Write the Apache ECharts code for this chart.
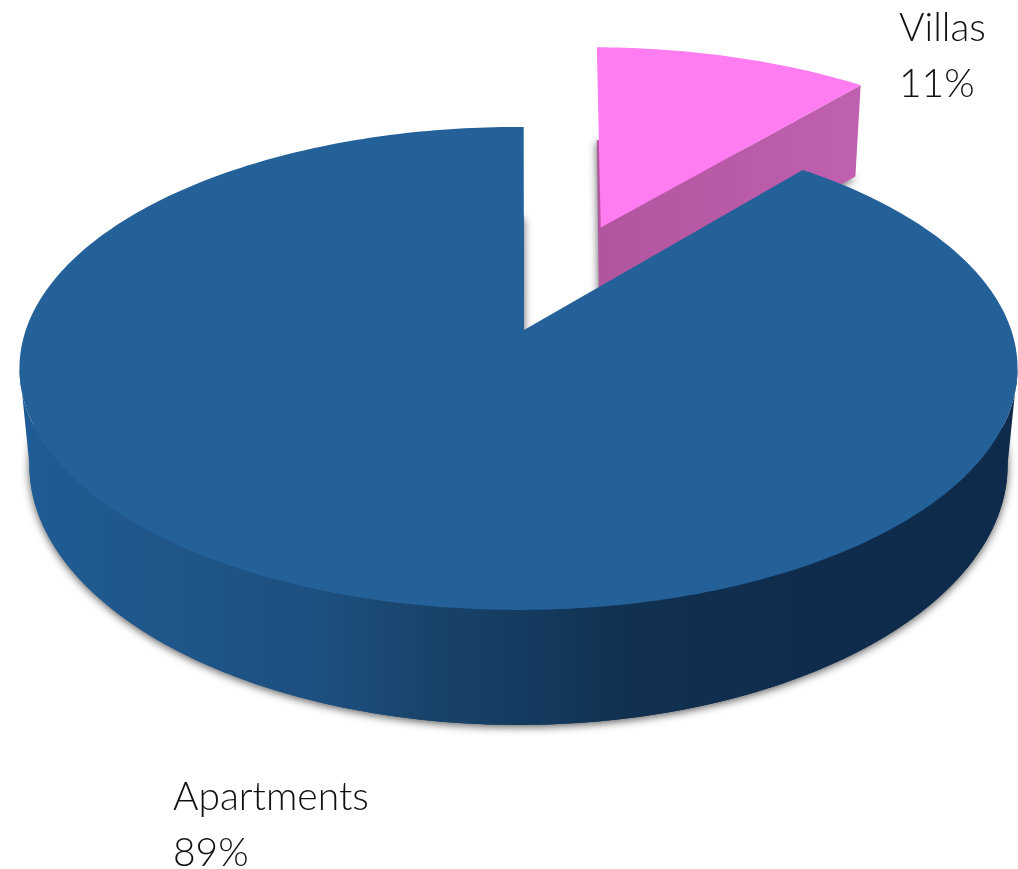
<!DOCTYPE html>
<html>
<head>
<meta charset="utf-8">
<style>html,body{margin:0;padding:0;background:#fff}#c{width:1018px;height:869px}</style>
<script src="https://cdn.jsdelivr.net/npm/echarts@6/dist/echarts.min.js"></script>
</head>
<body>
<div id="c"></div>
<script>
// Clockwise from the top of the pie
const categories = ['Villas', 'Apartments'];
const values = [11, 89];
const explode = [0.5, 0];
const topColors = ['#ff7df0', '#246199'];
const wallStops = [
  [[0, '#b2559f'], [1, '#c060b0']],
  [[0, '#1f5c96'], [0.15, '#205689'], [0.3, '#1d4f7f'], [0.42, '#184369'],
   [0.52, '#133a5e'], [0.62, '#11304f'], [0.8, '#0f2c4d'], [1, '#0e2b4b']]
];
const labelPos = [[899, 56], [173, 825]];
const rimShift = [[3.5, -2.5], [0, 0]];
const apexShift = [[2, 0], [5.5, 0]];
const lowShift = [[5, -2.5], [0, 0]];

const START = 0.7, CX = 518.5, AY = 330, A = 235.4, B = 492.7, P = 0.159, SHRINK = 0.98;
const FRONT_FROM = 99, FRONT_TO = 261;

function rad(d) { return d * Math.PI / 180; }
function topPt(x, y) { return [CX + B * x / (1 + P * y), AY - A * y / (1 + P * y)]; }
function depth(y) { return 94.85 - 12.52 * y + 7.63 * y * y; }
function lowPt(x, y) {
  const p = topPt(x, y);
  return [CX + (p[0] - CX) * SHRINK, p[1] + depth(y)];
}
const total = values.reduce((a, b) => a + b, 0);

function slice(i) {
  let s = START;
  for (let k = 0; k < i; k++) s += values[k] / total * 360;
  const e = s + values[i] / total * 360;
  const mid = rad((s + e) / 2);
  return { s, e, ox: explode[i] * Math.sin(mid), oy: explode[i] * Math.cos(mid) };
}
function rim(sl, fn, from, to, d) {
  const pts = [];
  const n = Math.max(8, Math.ceil(to - from));
  for (let k = 0; k <= n; k++) {
    const t = rad(from + (to - from) * k / n);
    const p = fn(sl.ox + Math.sin(t), sl.oy + Math.cos(t));
    pts.push([p[0] + d[0], p[1] + d[1]]);
  }
  return pts;
}
function moved(p, d) { return [p[0] + d[0], p[1] + d[1]]; }

function renderSlice(params, api) {
  const i = params.dataIndex;
  const sl = slice(i);
  const topApex = moved(topPt(sl.ox, sl.oy), apexShift[i]);
  const lowApex = moved(lowPt(sl.ox, sl.oy), apexShift[i]);
  const topRim = rim(sl, topPt, sl.s, sl.e, rimShift[i]);
  const lowRim = rim(sl, lowPt, sl.s, sl.e, lowShift[i]);
  const fill = new echarts.graphic.LinearGradient(0, 0, 1, 0,
    wallStops[i].map(c => ({ offset: c[0], color: c[1] })));
  // Visible side: the cut face for the pulled-out slice, the front of the rim for the other
  let wall;
  if (explode[i]) {
    wall = [topApex, topRim[topRim.length - 1], lowRim[lowRim.length - 1], lowApex];
  } else {
    wall = rim(sl, topPt, FRONT_FROM, FRONT_TO, rimShift[i])
      .concat(rim(sl, lowPt, FRONT_FROM, FRONT_TO, lowShift[i]).reverse());
  }
  return {
    type: 'group',
    children: [
      { type: 'polygon', shape: { points: [lowApex].concat(lowRim) },
        style: { fill: fill, shadowBlur: 9, shadowColor: 'rgba(0,0,0,0.65)', shadowOffsetX: 0, shadowOffsetY: 2 } },
      { type: 'polygon', shape: { points: wall }, style: { fill: fill } },
      { type: 'polygon', shape: { points: [topApex].concat(topRim) },
        style: { fill: topColors[i] } }
    ]
  };
}

const chart = echarts.init(document.getElementById('c'), null, { renderer: 'canvas' });
chart.setOption({
  animation: false,
  backgroundColor: '#fff',
  series: [{
    type: 'custom',
    coordinateSystem: 'none',
    silent: true,
    renderItem: renderSlice,
    data: values.map((v, i) => ({ value: v, name: categories[i] }))
  }, {
    type: 'custom',
    coordinateSystem: 'none',
    silent: true,
    renderItem: (params, api) => ({
      type: 'text',
      x: labelPos[params.dataIndex][0],
      y: labelPos[params.dataIndex][1],
      style: {
        text: categories[params.dataIndex] + '\n' + values[params.dataIndex] + '%',
        fill: '#111',
        font: '300 39px Lato',
        lineHeight: 56,
        textAlign: 'left',
        textVerticalAlign: 'middle'
      }
    }),
    data: values
  }]
});
</script>
</body>
</html>
